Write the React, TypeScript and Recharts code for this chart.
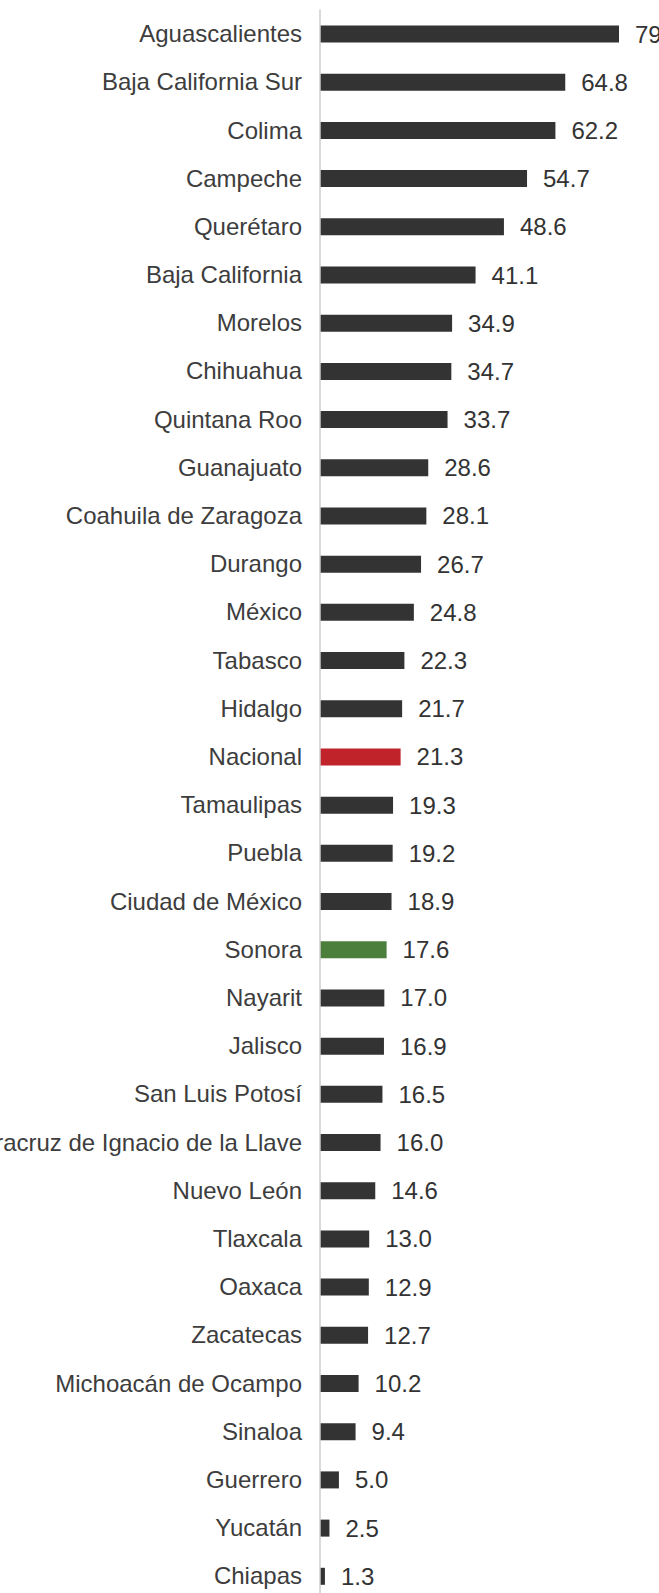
import React from 'react';
import { BarChart, Bar, XAxis, YAxis, Cell, LabelList } from 'recharts';

const states: string[] = [
    'Aguascalientes', 'Baja California Sur', 'Colima', 'Campeche', 'Querétaro',
    'Baja California', 'Morelos', 'Chihuahua', 'Quintana Roo', 'Guanajuato',
    'Coahuila de Zaragoza', 'Durango', 'México', 'Tabasco', 'Hidalgo',
    'Nacional', 'Tamaulipas', 'Puebla', 'Ciudad de México', 'Sonora',
    'Nayarit', 'Jalisco', 'San Luis Potosí', 'Veracruz de Ignacio de la Llave', 'Nuevo León',
    'Tlaxcala', 'Oaxaca', 'Zacatecas', 'Michoacán de Ocampo', 'Sinaloa',
    'Guerrero', 'Yucatán', 'Chiapas'
];

const values: number[] = [
    79.0, 64.8, 62.2, 54.7, 48.6,
    41.1, 34.9, 34.7, 33.7, 28.6,
    28.1, 26.7, 24.8, 22.3, 21.7,
    21.3, 19.3, 19.2, 18.9, 17.6,
    17.0, 16.9, 16.5, 16.0, 14.6,
    13.0, 12.9, 12.7, 10.2, 9.4,
    5.0, 2.5, 1.3
];

// highlighted rows
const highlights: Record<string, string> = {
    'Nacional': '#c1232b',
    'Sonora': '#4d7f3c'
};
const barColor = '#333333';

const data = states.map((name, i) => ({ name, value: values[i] }));

const font = '"Liberation Sans", Arial, sans-serif';

const App: React.FC = () => {
    return (
        <div style={{
            position: 'absolute',
            left: 0,
            top: 0,
            width: '659px',
            height: '1593px',
            overflow: 'hidden',
            background: '#fff'
        }}>
            <BarChart
                width={659}
                height={1600}
                data={data}
                layout="vertical"
                margin={{ top: 9.5, right: 40, bottom: 0, left: 0 }}
                barCategoryGap={0}
            >
                <XAxis type="number" domain={[0, 79]} hide />
                <YAxis
                    type="category"
                    dataKey="name"
                    width={320}
                    interval={0}
                    tickLine={false}
                    tickMargin={12}
                    axisLine={{ stroke: '#cccccc', strokeWidth: 1.5 }}
                    tick={{ fontSize: 24, fill: '#3d3d3d', fontFamily: font }}
                />
                <Bar dataKey="value" barSize={17} isAnimationActive={false}>
                    {data.map((entry, index) => (
                        <Cell key={`cell-${index}`} fill={highlights[entry.name] || barColor} />
                    ))}
                    <LabelList
                        dataKey="value"
                        position="right"
                        offset={16}
                        formatter={(v: any) => Number(v).toFixed(1)}
                        style={{ fontSize: 24, fill: '#333333', fontFamily: font }}
                    />
                </Bar>
            </BarChart>
        </div>
    );
};

export default App;
